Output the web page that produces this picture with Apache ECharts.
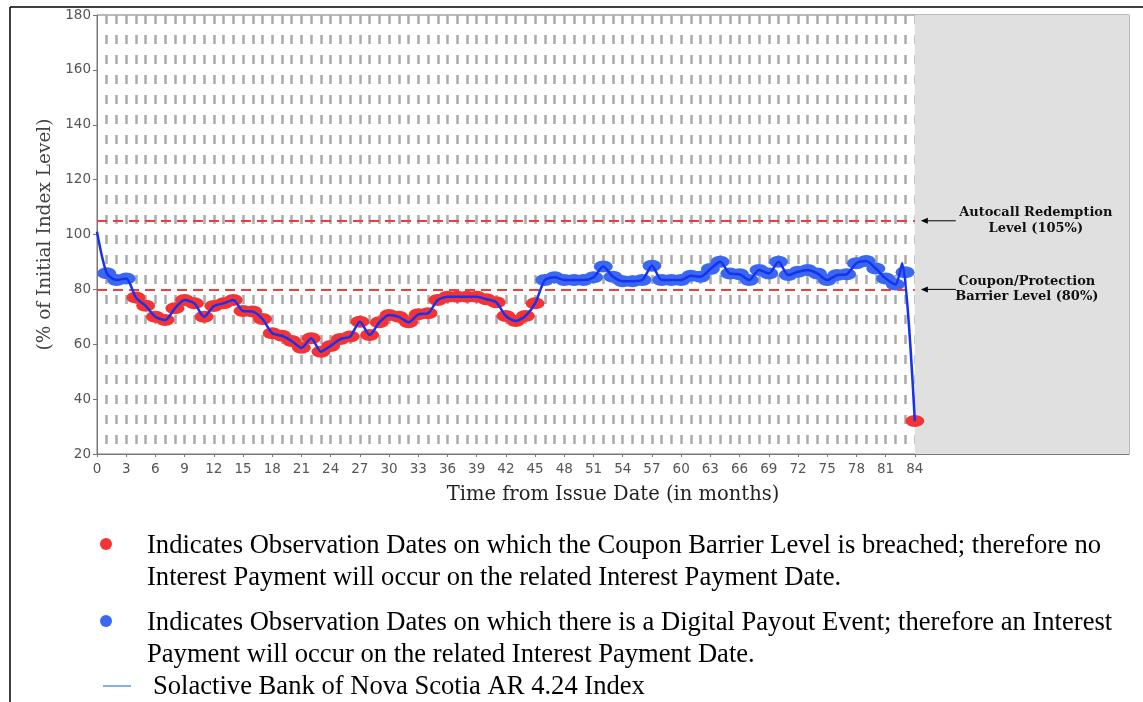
<!DOCTYPE html>
<html>
<head>
<meta charset="utf-8">
<script src="https://cdn.jsdelivr.net/npm/echarts@6/dist/echarts.min.js"></script>
<style>
html,body{margin:0;padding:0;background:#fff;}
#chart{width:1143px;height:702px;}
</style>
</head>
<body>
<div id="chart"></div>
<script>
// ---- data ----
// observation values for months 1..84 (% of initial index level)
const obsValues = [
  85.9, 83.4, 84.0, 77.0, 74.0, 70.0, 68.8, 73.1, 76.1, 74.9,
  70.0, 73.9, 74.9, 76.1, 72.1, 71.9, 69.2, 64.0, 63.1, 61.2,
  58.7, 62.2, 57.3, 59.4, 61.9, 62.8, 68.2, 63.4, 68.0, 70.7,
  70.0, 68.0, 70.9, 71.3, 76.1, 77.3, 77.3, 77.3, 77.3, 76.4,
  75.3, 70.3, 68.5, 70.3, 74.9, 83.4, 84.4, 83.4, 83.4, 83.4,
  84.4, 88.3, 84.6, 83.0, 83.0, 83.4, 88.6, 83.4, 83.4, 83.4,
  85.0, 84.6, 87.4, 90.1, 85.8, 85.5, 83.4, 87.1, 85.8, 90.1,
  85.2, 86.4, 87.1, 85.8, 83.4, 85.2, 85.5, 89.5, 90.3, 87.6,
  84.0, 81.8, 86.2, 32.0
];
const lineStart = [0, 101];
const linePeak = [82.7, 89.5];
const lineEnd = [84, 32];
const couponBarrier = 80;
const autocallLevel = 105;
const lastMonth = 84;
const xTickLabels = [0,3,6,9,12,15,18,21,24,27,30,33,36,39,42,45,48,51,54,57,60,63,66,69,72,75,78,81,84];
const yTickLabels = [20,40,60,80,100,120,140,160,180];

// ---- derived ----
const redPts = [], bluePts = [];
obsValues.forEach((v, i) => {
  const m = i + 1;
  if (v < couponBarrier) redPts.push([m, v]); else bluePts.push([m, v]);
});
const linePts = [lineStart];
obsValues.forEach((v, i) => { if (i + 1 <= 82) linePts.push([i + 1, v]); });
linePts.push(linePeak);
linePts.push(lineEnd);

const chart = echarts.init(document.getElementById('chart'), null, {renderer: 'canvas'});
const axisGrey = '#777';
const option = {
  animation: false,
  backgroundColor: '#fff',
  grid: {left: 97, top: 15, right: 14, bottom: 248, show: true, borderColor: axisGrey, borderWidth: 1, backgroundColor: 'transparent'},
  xAxis: [{
    type: 'value', min: 0, max: 106, interval: 1,
    axisLine: {show: true, lineStyle: {color: axisGrey, width: 1}},
    axisTick: {show: false},
    axisLabel: {show: false},
    splitLine: {show: true, showMinLine: false, showMaxLine: false, lineStyle: {color: '#aaaaaa', width: 2.5, type: [9, 11]}}
  }, {
    type: 'value', min: 0, max: 106, interval: 3, position: 'bottom',
    name: 'Time from Issue Date (in months)', nameLocation: 'middle', nameGap: 31,
    nameTextStyle: {fontFamily: 'DejaVu Serif', fontSize: 19.5, color: '#222'},
    axisLine: {show: false},
    axisTick: {show: true, length: 3, lineStyle: {color: axisGrey}, customValues: xTickLabels},
    axisLabel: {show: true, color: '#555', fontFamily: 'DejaVu Sans', fontSize: 13.5, margin: 8,
      customValues: xTickLabels,
      formatter: v => (v <= lastMonth ? String(v) : '')},
    splitLine: {show: false}
  }],
  yAxis: {
    type: 'value', min: 20, max: 180, interval: 20,
    name: '(% of Initial Index Level)', nameLocation: 'middle', nameGap: 41, nameRotate: 90,
    nameTextStyle: {fontFamily: 'DejaVu Serif', fontSize: 18.5, color: '#444'},
    axisLine: {show: true, lineStyle: {color: axisGrey}},
    axisTick: {show: true, length: 4, lineStyle: {color: axisGrey}},
    axisLabel: {color: '#555', fontFamily: 'DejaVu Sans', fontSize: 13.5, margin: 6},
    splitLine: {show: false}
  },
  series: [
    {
      type: 'line', data: [], xAxisIndex: 0, z: 1, silent: true,
      markArea: {silent: true, itemStyle: {color: '#e0e0e0', opacity: 1},
        data: [[{xAxis: lastMonth, yAxis: 20}, {xAxis: 106, yAxis: 180}]]},
      markLine: {silent: true, symbol: ['none', 'none'], label: {show: false},
        lineStyle: {color: '#f03c3c', width: 2, type: [10, 6]},
        data: [
          [{coord: [0, autocallLevel]}, {coord: [lastMonth, autocallLevel]}],
          [{coord: [0, couponBarrier]}, {coord: [lastMonth, couponBarrier]}]
        ]}
    },
    {
      type: 'scatter', data: redPts, xAxisIndex: 0, z: 3, symbol: 'circle', symbolSize: [19, 12],
      itemStyle: {color: '#f43434', opacity: 1}
    },
    {
      type: 'scatter', data: bluePts, xAxisIndex: 0, z: 3, symbol: 'circle', symbolSize: [19, 12],
      itemStyle: {color: '#3a68f2', opacity: 1}
    },
    {
      type: 'line', data: linePts, xAxisIndex: 0, z: 5, smooth: 0.25, symbol: 'none',
      lineStyle: {color: '#1432f0', width: 2.5}
    }
  ]
};
chart.setOption(option);

// annotations and legend
const p105 = chart.convertToPixel({xAxisIndex: 0, yAxisIndex: 0}, [lastMonth, autocallLevel]);
const p80 = chart.convertToPixel({xAxisIndex: 0, yAxisIndex: 0}, [lastMonth, couponBarrier]);
function arrow(x1, x2, y) {
  return [
    {type: 'line', shape: {x1: x1, y1: y, x2: x2 + 4, y2: y}, style: {stroke: '#000', lineWidth: 1}, z: 50},
    {type: 'polygon', shape: {points: [[x2, y], [x2 + 7, y - 3], [x2 + 7, y + 3]]}, style: {fill: '#000'}, z: 50}
  ];
}
const annFont = 'bold 13px "DejaVu Serif"';
const legendFont = '26.6px "Liberation Serif"';
const graphics = [
  ...arrow(p105[0] + 41, p105[0] + 6, p105[1]),
  ...arrow(p80[0] + 41, p80[0] + 6, p80[1]),
  {type: 'text', z: 50, style: {text: 'Autocall Redemption\nLevel (105%)', x: p105[0] + 121, y: p105[1], align: 'center', verticalAlign: 'middle', font: annFont, lineHeight: 16, fill: '#111'}},
  {type: 'text', z: 50, style: {text: 'Coupon/Protection\nBarrier Level (80%)', x: p80[0] + 112, y: p80[1], align: 'center', verticalAlign: 'middle', font: annFont, lineHeight: 15, fill: '#111'}},
  // frame
  {type: 'line', shape: {x1: 10, y1: 7, x2: 1143, y2: 7}, style: {stroke: '#000', lineWidth: 1.5}},
  {type: 'line', shape: {x1: 10, y1: 7, x2: 10, y2: 702}, style: {stroke: '#000', lineWidth: 1.5}},
  // legend
  {type: 'circle', shape: {cx: 106, cy: 544, r: 6}, style: {fill: '#f43434'}},
  {type: 'text', style: {text: 'Indicates Observation Dates on which the Coupon Barrier Level is breached; therefore no\nInterest Payment will occur on the related Interest Payment Date.', x: 147, y: 562, verticalAlign: 'middle', font: legendFont, lineHeight: 31.5, fill: '#000'}},
  {type: 'circle', shape: {cx: 106, cy: 621, r: 6}, style: {fill: '#3a68f2'}},
  {type: 'text', style: {text: 'Indicates Observation Dates on which there is a Digital Payout Event; therefore an Interest\nPayment will occur on the related Interest Payment Date.', x: 147, y: 639, verticalAlign: 'middle', font: legendFont, lineHeight: 31.5, fill: '#000'}},
  {type: 'line', shape: {x1: 103, y1: 686, x2: 131, y2: 686}, style: {stroke: '#2a7fd4', lineWidth: 1.2}},
  {type: 'text', style: {text: 'Solactive Bank of Nova Scotia AR 4.24 Index', x: 153, y: 687, verticalAlign: 'middle', font: legendFont, fill: '#000'}}
];
chart.setOption({graphic: graphics});
</script>
</body>
</html>
